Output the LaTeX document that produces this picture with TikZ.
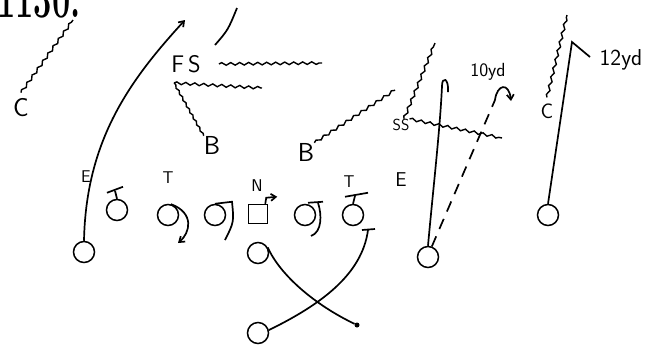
\documentclass[tikz,border=0pt]{standalone}
\usepackage{graphicx}
\usetikzlibrary{arrows.meta,decorations.pathmorphing}

\begin{document}
\begin{tikzpicture}[x=1pt, y=-1pt, >={Straight Barb[length=5pt,width=7pt]},
  every node/.style={inner sep=0pt},
  player/.style={circle,draw,line width=1.5pt,minimum size=21pt},
  cbox/.style={draw,line width=1.5pt,minimum size=19pt},
  lbl/.style={font=\sffamily\fontsize{#1}{#1}\selectfont}, lbl/.default=17,
  route/.style={line width=1.7pt},
  wave/.style={line width=1.4pt,decorate,decoration={snake,amplitude=1.3pt,segment length=9pt}}]
\useasboundingbox (0,0) rectangle (652,346);

% caption, cut off at the top
\begin{scope}
\clip (0,0) rectangle (120,30);
\node[anchor=base west,font=\bfseries\fontsize{56}{56}\selectfont] (fig) at (-3,17) {\scalebox{0.58}[1]{1130.}};
\end{scope}

% offence
\node[player] (lend) at (84,252) {};
\node[player] (p1) at (117,210) {};
\node[player] (ltack) at (168,215) {};
\node[player] (lguard) at (215,215) {};
\node[cbox] (cen) at (258,214) {};
\node[player] (rguard) at (305,215) {};
\node[player] (rtack) at (353,215) {};
\node[player] (qb) at (258,253) {};
\node[player] (fb) at (258,333) {};
\node[player] (rend) at (428,257) {};
\node[player] (flank) at (548,215) {};
\node[circle,fill,minimum size=5pt] (spot) at (357,325) {};

\node[lbl] (el) at (86,177) {E};
\node[lbl] (tl) at (168,178) {T};
\node[lbl] (nl) at (257,186) {N};
\node[lbl] (tr) at (349,182) {T};
\node[lbl=20] (er) at (401,180) {E};

% defence
\node[lbl=26] (cl) at (21,108) {C};
\node[lbl=24] (fs) at (186,64) {F\hspace{4pt}S};
\node[lbl=26] (bl) at (212,145) {B};
\node[lbl=26] (br) at (306,152) {B};
\node[lbl=16] (ss) at (401,125) {SS};
\node[lbl=21] (cr) at (547,111) {C};
\node[lbl=19] (ten) at (488,72) {10yd};
\node[lbl=23] (twelve) at (621,60) {12yd};

% route ends
\coordinate (ltip) at (185,20);
\coordinate (rtop) at (442,86);
\coordinate (rhook) at (448,92);
\coordinate (dtop) at (495,100);
\coordinate (dend) at (511,101);
\coordinate (ftop) at (572,42);
\coordinate (fend) at (590,57);
\coordinate (ltk) at (178,243);
\coordinate (lgd) at (225,240);
\coordinate (rgd) at (311,236);
\coordinate (fbend) at (368,230);
\coordinate (slashb) at (215,45);
\coordinate (slasht) at (237,8);

% defenders' lanes
\coordinate (cwave) at (73,20);
\coordinate (fsr) at (322,63);
\coordinate (fsp) at (174,83);
\coordinate (fsl) at (262,88);
\coordinate (bwave) at (395,90);
\coordinate (sup) at (435,43);
\coordinate (sright) at (502,138);
\coordinate (crwave) at (567,15);

% pass routes
\draw[route,->] (lend.north) .. controls (86,140) and (130,80) .. (ltip);
\draw[route] (rend.north) .. controls (433,190) and (440,130) .. (rtop) .. controls (442,76) and (449,78) .. (rhook);
\draw[route,dash pattern=on 11pt off 8pt] (rend.70) -- (dtop);
\draw[route,->] (dtop) .. controls (497,84) and (509,82) .. (dend);
\draw[route] (flank.north) -- (ftop) -- (fend);
\draw[route] (slashb) .. controls (228,30) .. (slasht);

% line blocks
\draw[route] (p1.north) -- ++(-2,-8) coordinate (p1t);
\draw[route] (p1t) ++(-8,2) -- ++(16,-6);
\draw[route,->] (ltack.75) .. controls (195,213) and (190,233) .. (ltk);
\draw[route] (lguard.north) -- ++(17,-2) .. controls (234,222) .. (lgd);
\draw[route,->] (cen.north east) ++(-3,0) -- ++(1,-6) -- ++(11,-1);
\draw[route] (rguard.north) ++(3,-1) -- ++(15,-1);
\draw[route] (rguard.north) ++(13,-1) .. controls (322,215) and (322,232) .. (rgd);
\draw[route] (rtack.north) -- ++(2,-8) coordinate (rtt);
\draw[route] (rtt) ++(-10,1) -- ++(23,-4);

% backfield
\draw[route] (qb.30) .. controls (280,275) and (315,305) .. (spot);
\draw[route] (fb.15) .. controls (320,305) and (362,275) .. (fbend);
\draw[route] (fbend) ++(-6,0) -- ++(13,-1);

% defence
\draw[wave] ([yshift=6pt]cl.north) -- (cwave);
\draw[wave] ([xshift=18pt]fs.east) -- (fsr);
\draw[wave] (fsp) -- (fsl);
\draw[wave,decoration={amplitude=0.8pt,segment length=7pt}] (fsp) -- (bl.north west);
\draw[wave] (br.north east) -- (bwave);
\draw[wave] ([xshift=3pt]ss.north) -- (sup);
\draw[wave] (ss.north east) -- (sright);
\draw[wave] ([yshift=6pt]cr.north) -- (crwave);
\end{tikzpicture}
\end{document}
